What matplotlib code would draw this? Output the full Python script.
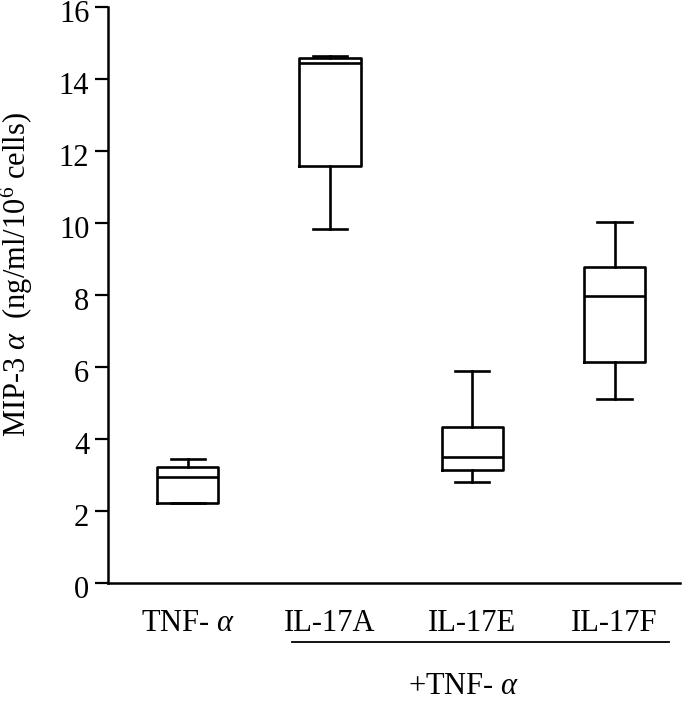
import matplotlib
matplotlib.use('Agg')
import matplotlib.pyplot as plt
from matplotlib.transforms import ScaledTranslation

# data
groups = ['TNF- $\\alpha$', 'IL-17A', 'IL-17E', 'IL-17F']
whislo = [2.22, 9.83, 2.80, 5.11]
q1 = [2.22, 11.58, 3.14, 6.14]
med = [2.94, 14.44, 3.50, 7.97]
q3 = [3.22, 14.58, 4.33, 8.78]
whishi = [3.44, 14.64, 5.88, 10.03]
yticks = [0, 2, 4, 6, 8, 10, 12, 14, 16]

plt.rcParams['font.family'] = ['Liberation Serif', 'DejaVu Serif']
plt.rcParams['mathtext.fontset'] = 'custom'
plt.rcParams['mathtext.rm'] = 'Liberation Serif'
plt.rcParams['mathtext.it'] = 'Liberation Serif:italic'

fig = plt.figure(figsize=(6.85, 7.01), dpi=100)
ax = fig.add_axes([0.1577, 0.1683, 0.835, 0.8217])

stats = []
for i in range(len(groups)):
    stats.append({'whislo': whislo[i], 'q1': q1[i], 'med': med[i],
                  'q3': q3[i], 'whishi': whishi[i], 'fliers': []})

lw = 1.9
ax.bxp(stats, positions=range(len(groups)), widths=0.43, showfliers=False,
       boxprops=dict(color='black', linewidth=lw),
       medianprops=dict(color='black', linewidth=lw),
       whiskerprops=dict(color='black', linewidth=lw),
       capprops=dict(color='black', linewidth=lw),
       capwidths=0.24)

ax.set_xlim(-0.56, 3.46)
ax.set_ylim(0, 16)
ax.set_yticks(yticks)
ax.set_xticks(range(len(groups)))
ax.set_xticklabels(groups, fontsize=22)
ax.tick_params(axis='x', length=0, pad=19)
ax.tick_params(axis='y', length=9.5, width=1.6, direction='out', labelsize=22, pad=4)

# labels sit a touch below their ticks in the original
shift = ScaledTranslation(0, -3 / 72, fig.dpi_scale_trans)
for lab in ax.get_yticklabels():
    lab.set_transform(lab.get_transform() + shift)

for s in ['top', 'right']:
    ax.spines[s].set_visible(False)
for s in ['left', 'bottom']:
    ax.spines[s].set_linewidth(1.8)

ax.set_ylabel('MIP-3 $\\alpha$  (ng/ml/10$^6$ cells)', fontsize=22)
ax.yaxis.set_label_coords(-0.128, 0.536)

# group bracket for +TNF-alpha
tr = ax.get_xaxis_transform()
ax.plot([0.73, 3.38], [-0.102, -0.102], color='black', linewidth=1.3,
        transform=tr, clip_on=False)
ax.text(1.94, -0.179, '+TNF- $\\alpha$', fontsize=22, ha='center', va='center',
        transform=tr)

fig.savefig('out.png', dpi=100)
